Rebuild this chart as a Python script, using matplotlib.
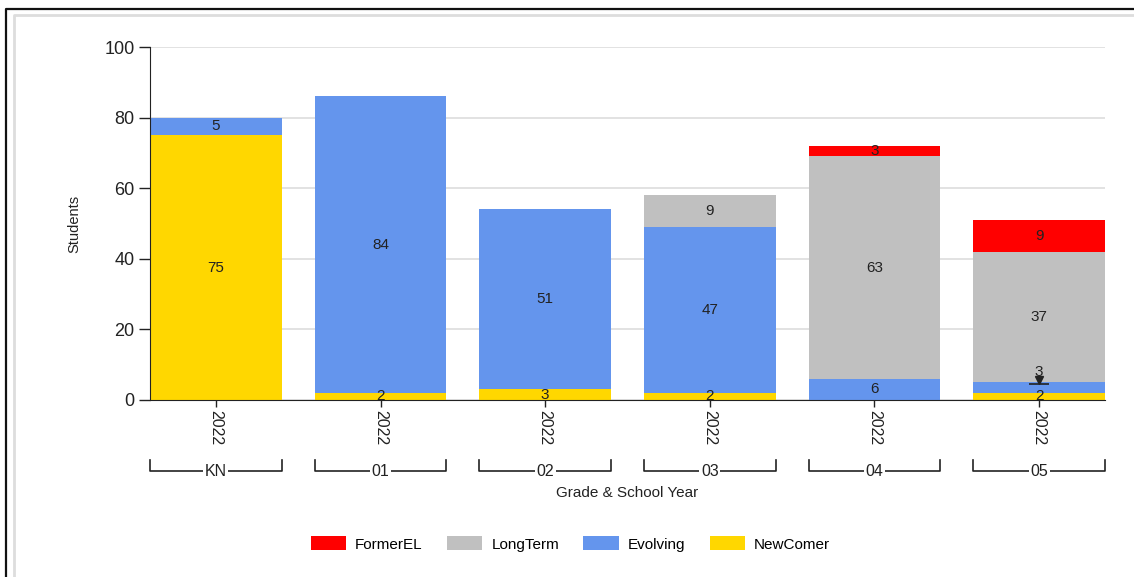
import matplotlib.pyplot as plt
import matplotlib.transforms as mtransforms
from matplotlib.lines import Line2D
from matplotlib.patches import Patch

plt.rcParams['font.family'] = ['Liberation Sans', 'DejaVu Sans']

grades = ['KN', '01', '02', '03', '04', '05']
years = ['2022'] * 6

# stacked from bottom to top
newcomer = [75, 2, 3, 2, 0, 2]
evolving = [5, 84, 51, 47, 6, 3]
longterm = [0, 0, 0, 9, 63, 37]
former_el = [0, 0, 0, 0, 3, 9]

series = [
    ('NewComer', newcomer, '#FFD700'),
    ('Evolving', evolving, '#6495ED'),
    ('LongTerm', longterm, '#C0C0C0'),
    ('FormerEL', former_el, '#FF0000'),
]
legend_order = ['FormerEL', 'LongTerm', 'Evolving', 'NewComer']

W, H = 1134, 577
fig = plt.figure(figsize=(W / 100, H / 100), dpi=100)
ax = fig.add_axes([150 / W, 1 - 400 / H, (1105 - 150) / W, 353 / H])

x = list(range(len(grades)))
bw = 0.8
bottom = [0] * len(grades)
for name, vals, col in series:
    ax.bar(x, vals, bw, bottom=bottom, color=col, zorder=2, linewidth=0)
    for i, v in enumerate(vals):
        if v <= 0:
            continue
        yc = bottom[i] + v / 2
        if name == 'Evolving' and grades[i] == '05':
            # small segment: label pushed up with a pointer
            ax.text(i, yc + 4.4, str(v), ha='center', va='center',
                    fontsize=11, color='#222222', zorder=4)
            ax.plot(i, yc + 2.2, marker='v', ms=6, color='#222222', zorder=4)
            ax.plot(i, yc + 1.0, marker='_', ms=14, mew=1.2,
                    color='#222222', zorder=4)
        else:
            ax.text(i, yc, str(v), ha='center', va='center',
                    fontsize=11, color='#222222', zorder=4)
    bottom = [b + v for b, v in zip(bottom, vals)]

ax.set_xlim(-0.5 + (1 - bw) / 2, len(grades) - 0.5 - (1 - bw) / 2)
ax.set_ylim(0, 100)
ax.set_yticks([0, 20, 40, 60, 80, 100])
ax.yaxis.grid(True, color='#dddddd', linewidth=1.2, zorder=0)
ax.set_axisbelow(True)
for s in ('top', 'right'):
    ax.spines[s].set_visible(False)
ax.spines['left'].set_color('#222222')
ax.spines['bottom'].set_color('#222222')
ax.spines['bottom'].set_zorder(3)
ax.tick_params(axis='y', length=8, width=1, pad=3, labelsize=13,
               colors='#222222')
ax.set_xticks(x)
ax.set_xticklabels(years, rotation=270, fontsize=11.5, color='#222222')
ax.tick_params(axis='x', length=5, width=1, pad=2, colors='#222222')
ax.set_ylabel('Students', fontsize=10.5, color='#222222', labelpad=17)

# grade brackets under the year labels
tr = mtransforms.blended_transform_factory(ax.transData, fig.transFigure)
y_top = 1 - 460 / H
y_line = 1 - 471 / H
for i, g in enumerate(grades):
    x0, x1 = i - bw / 2, i + bw / 2
    fig.add_artist(Line2D([x0, x0, x1, x1], [y_top, y_line, y_line, y_top],
                          transform=tr, color='#222222', linewidth=1.2))
    fig.text(i, y_line, g, transform=tr, ha='center', va='center',
             fontsize=11.5, color='#222222',
             bbox=dict(boxstyle='square,pad=0.1', fc='white', ec='none'))

fig.text(2.5, 1 - 493 / H, 'Grade & School Year', transform=tr,
         ha='center', va='center', fontsize=11, color='#222222')

colors = {name: col for name, _, col in series}
handles = [Patch(facecolor=colors[n], edgecolor='none', label=n)
           for n in legend_order]
fig.legend(handles=handles, loc='center', bbox_to_anchor=(0.503, 1 - 544 / H),
           ncol=4, frameon=False, fontsize=11, handlelength=2.3,
           handleheight=1.0, columnspacing=1.6, handletextpad=0.6)

# report frame
fig.add_artist(Line2D([5.5 / W, 5.5 / W, 1], [0, 1 - 8.5 / H, 1 - 8.5 / H],
                      transform=fig.transFigure, color='#111111',
                      linewidth=1.6))
fig.add_artist(Line2D([13.5 / W, 13.5 / W, 1], [0, 1 - 15 / H, 1 - 15 / H],
                      transform=fig.transFigure, color='#dddddd',
                      linewidth=2))

fig.savefig('out.png', dpi=100)
